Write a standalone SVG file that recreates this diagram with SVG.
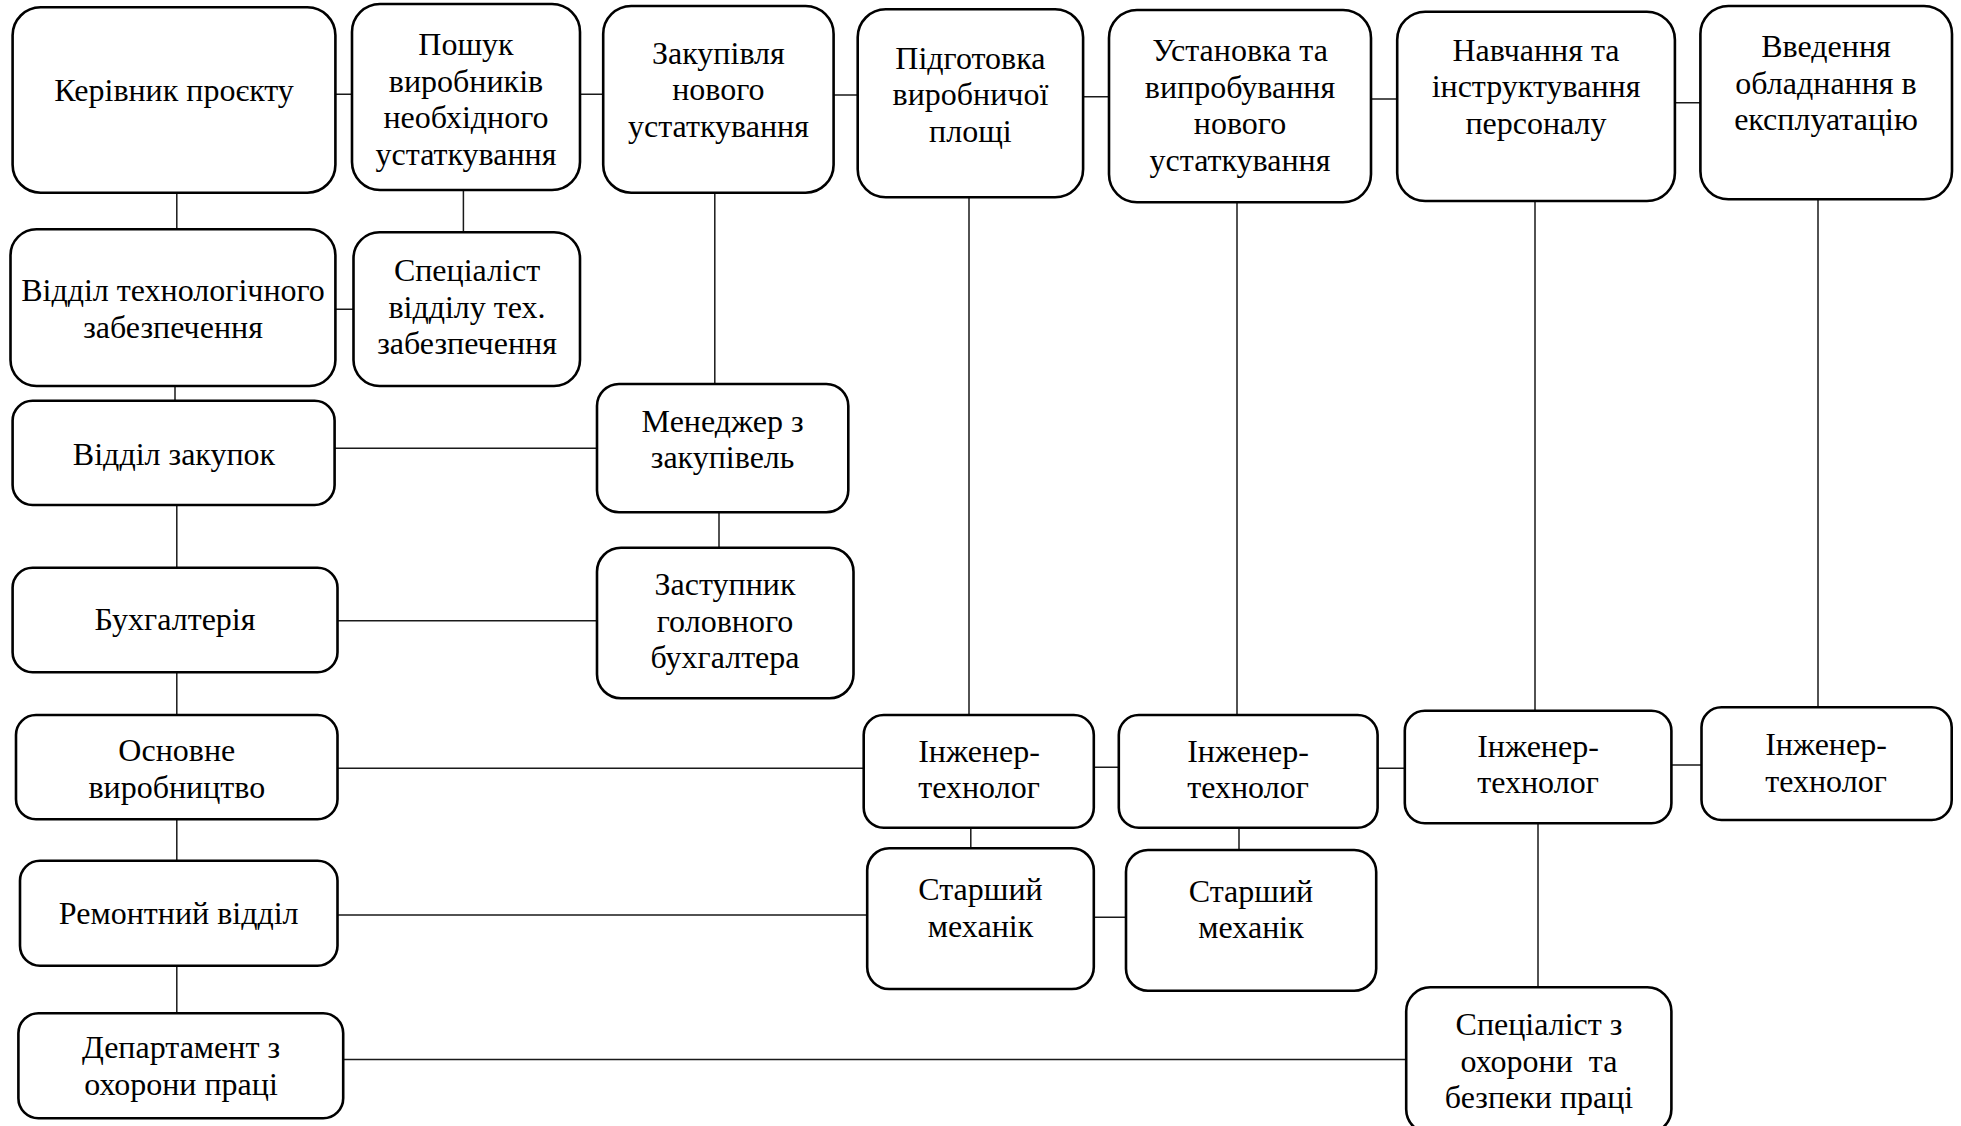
<svg xmlns="http://www.w3.org/2000/svg" width="1961" height="1126" viewBox="0 0 1961 1126">
<style>
.b{fill:#fff;stroke:#000;stroke-width:2.6}
.t{font-family:"Liberation Serif","Times New Roman",serif;font-size:32px;fill:#000;text-anchor:middle;white-space:pre}
.c{stroke:#1a1a1a;stroke-width:1.5;fill:none}
</style>
<rect width="1961" height="1126" fill="#fff"/>
<g id="connectors">
<path class="c" d="M335 94.3H352 M580 94.3H603 M834 95H858 M1083 96.7H1109 M1371 99H1397 M1675 102.7H1700"/>
<path class="c" d="M176.8 193V229 M463.4 190V232 M335 309.3H353.5 M175 386V401 M714.8 193V384 M335 448.3H597 M719 512V548 M176.8 505V568 M337.5 620.7H597 M176.8 672V715"/>
<path class="c" d="M337.5 768.3H864 M969 197V715 M1094 767.3H1119 M1237 202V715 M1378 768.3H1405 M1535 201V711 M1671 765H1701 M1818 199V707"/>
<path class="c" d="M970.8 828V848 M1239 828V850 M176.8 819V861 M337.5 915H866 M1094 917.3H1126 M1538 823V987 M176.8 966V1013 M343 1059.5H1406"/>
</g>
<g id="n1"><rect class="b" x="12.6" y="7.3" width="322.8" height="185.4" rx="28"/><text class="t" x="174" y="101">Керівник проєкту</text></g>
<g id="n2"><rect class="b" x="352" y="4" width="228" height="186" rx="28"/><text class="t" x="466" y="55">Пошук</text><text class="t" x="466" y="91.7">виробників</text><text class="t" x="466" y="128.4">необхідного</text><text class="t" x="466" y="165">устаткування</text></g>
<g id="n3"><rect class="b" x="603.2" y="6" width="230.4" height="186.7" rx="28"/><text class="t" x="718.4" y="63.5">Закупівля</text><text class="t" x="718.4" y="100">нового</text><text class="t" x="718.4" y="136.5">устаткування</text></g>
<g id="n4"><rect class="b" x="857.7" y="9.3" width="225.4" height="188" rx="28"/><text class="t" x="970.4" y="68.5">Підготовка</text><text class="t" x="970.4" y="105">виробничої</text><text class="t" x="970.4" y="141.5">площі</text></g>
<g id="n5"><rect class="b" x="1109" y="10" width="262" height="192.3" rx="28"/><text class="t" x="1240" y="61">Установка та</text><text class="t" x="1240" y="97.7">випробування</text><text class="t" x="1240" y="134.4">нового</text><text class="t" x="1240" y="171">устаткування</text></g>
<g id="n6"><rect class="b" x="1397.2" y="11.7" width="277.7" height="189.3" rx="28"/><text class="t" x="1536" y="60.5">Навчання та</text><text class="t" x="1536" y="97.2">інструктування</text><text class="t" x="1536" y="133.9">персоналу</text></g>
<g id="n7"><rect class="b" x="1700.4" y="6" width="251.6" height="193.3" rx="28"/><text class="t" x="1826" y="57">Введення</text><text class="t" x="1826" y="93.7">обладнання в</text><text class="t" x="1826" y="130.4">експлуатацію</text></g>
<g id="n8"><rect class="b" x="10.5" y="229.3" width="324.9" height="156.7" rx="26"/><text class="t" x="173" y="301">Відділ технологічного</text><text class="t" x="173" y="338">забезпечення</text></g>
<g id="n9"><rect class="b" x="353.5" y="232.3" width="226.5" height="153.7" rx="26"/><text class="t" x="467" y="281">Спеціаліст</text><text class="t" x="467" y="317.7">відділу тех.</text><text class="t" x="467" y="354.4">забезпечення</text></g>
<g id="n10"><rect class="b" x="12.6" y="400.7" width="322" height="104.3" rx="20"/><text class="t" x="174" y="465">Відділ закупок</text></g>
<g id="n11"><rect class="b" x="597" y="384" width="251.3" height="128.3" rx="22"/><text class="t" x="722.6" y="431.7">Менеджер з</text><text class="t" x="722.6" y="468.3">закупівель</text></g>
<g id="n12"><rect class="b" x="12.6" y="567.7" width="324.9" height="104.6" rx="20"/><text class="t" x="175" y="630">Бухгалтерія</text></g>
<g id="n13"><rect class="b" x="597" y="547.7" width="256.5" height="150.6" rx="24"/><text class="t" x="725" y="595">Заступник</text><text class="t" x="725" y="631.7">головного</text><text class="t" x="725" y="668.4">бухгалтера</text></g>
<g id="n14"><rect class="b" x="16" y="715" width="321.5" height="104.3" rx="20"/><text class="t" x="176.8" y="761">Основне</text><text class="t" x="176.8" y="797.5">виробництво</text></g>
<g id="n15"><rect class="b" x="863.7" y="715" width="230.1" height="112.7" rx="20"/><text class="t" x="979" y="761.7">Інженер-</text><text class="t" x="979" y="798.3">технолог</text></g>
<g id="n16"><rect class="b" x="1118.8" y="715" width="258.8" height="112.7" rx="20"/><text class="t" x="1248" y="761.7">Інженер-</text><text class="t" x="1248" y="798.3">технолог</text></g>
<g id="n17"><rect class="b" x="1404.8" y="710.7" width="266.6" height="112.6" rx="20"/><text class="t" x="1538" y="756.7">Інженер-</text><text class="t" x="1538" y="793.3">технолог</text></g>
<g id="n18"><rect class="b" x="1701.5" y="707.3" width="250.2" height="112.7" rx="20"/><text class="t" x="1826" y="755">Інженер-</text><text class="t" x="1826" y="791.5">технолог</text></g>
<g id="n19"><rect class="b" x="20" y="860.7" width="317.5" height="105" rx="20"/><text class="t" x="178.7" y="923.5">Ремонтний відділ</text></g>
<g id="n20"><rect class="b" x="867.2" y="848.3" width="226.6" height="140.7" rx="22"/><text class="t" x="980.5" y="900">Старший</text><text class="t" x="980.5" y="936.7">механік</text></g>
<g id="n21"><rect class="b" x="1126" y="850" width="250.2" height="140.7" rx="22"/><text class="t" x="1251" y="901.7">Старший</text><text class="t" x="1251" y="938.3">механік</text></g>
<g id="n22"><rect class="b" x="18.4" y="1013.3" width="324.8" height="105" rx="20"/><text class="t" x="181" y="1058.3">Департамент з</text><text class="t" x="181" y="1095">охорони праці</text></g>
<g id="n23"><rect class="b" x="1406.2" y="987.3" width="265.2" height="146" rx="24"/><text class="t" x="1539" y="1035">Спеціаліст з</text><text class="t" x="1539" y="1071.7">охорони  та</text><text class="t" x="1539" y="1108.3">безпеки праці</text></g>
</svg>
